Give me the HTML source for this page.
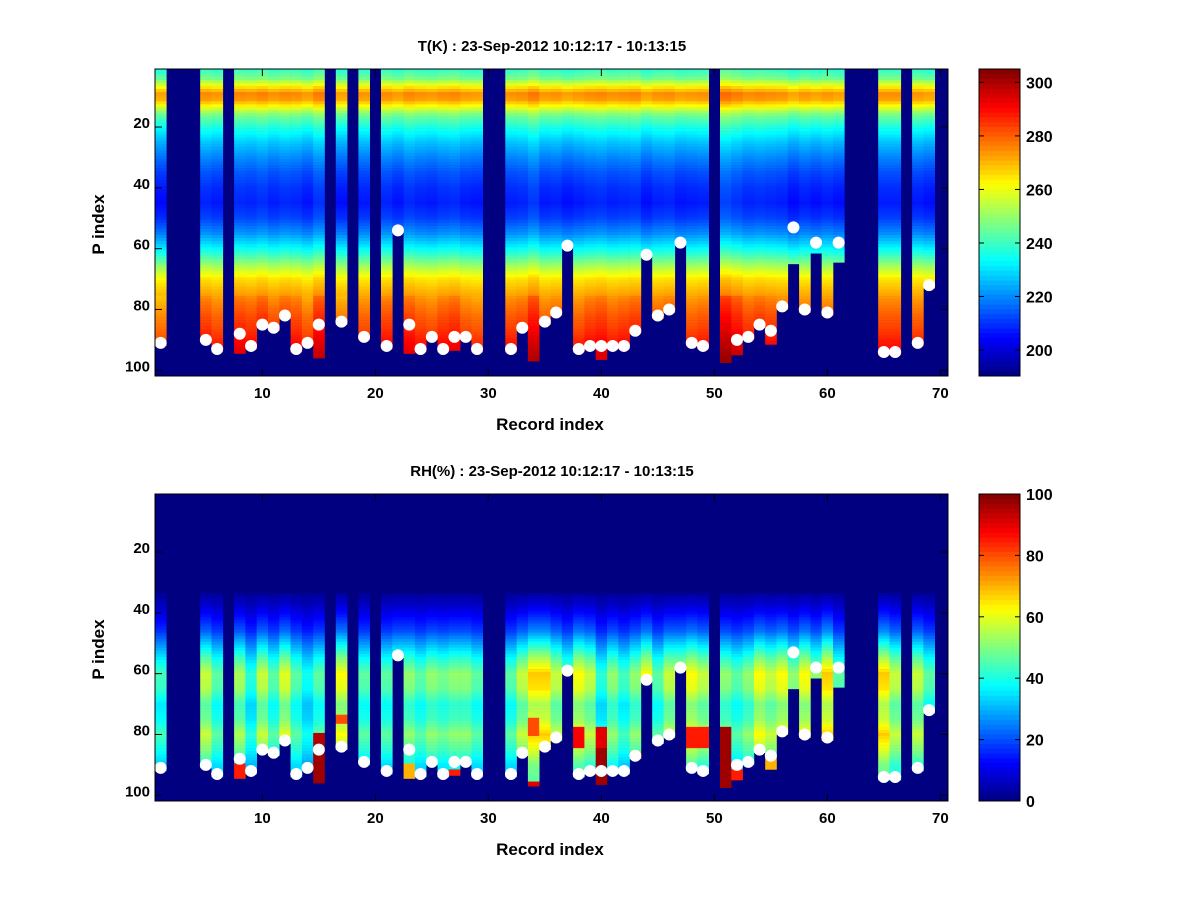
<!DOCTYPE html>
<html><head><meta charset="utf-8"><style>
body{margin:0;background:#fff;}
svg{display:block;font-family:"Liberation Sans",sans-serif;font-weight:bold;}
</style></head><body>
<svg id="fig" width="1200" height="900" viewBox="0 0 1200 900">
<rect x="0" y="0" width="1200" height="900" fill="#fff"/>
<g id="top"></g>
<g id="bot"></g>
</svg>
<script>
// ---------- data ----------
const recordCount = 70;
const dotLevel = {1:91,5:90,6:93,8:88,9:92,10:85,11:86,12:82,13:93,14:91,15:85,17:84,19:89,21:92,22:54,23:85,24:93,25:89,26:93,27:89,28:89,29:93,32:93,33:86,35:84,36:81,37:59,38:93,39:92,40:92,41:92,42:92,43:87,44:62,45:82,46:80,47:58,48:91,49:92,52:90,53:89,54:85,55:87,56:79,57:53,58:80,59:58,60:81,61:58,65:94,66:94,68:91,69:72};
const dataEndExtra = {8:94.5,13:94,15:96,23:94.5,24:94,27:93.5,34:97,40:96.5,51:97.5,52:95,55:91.5,57:65,59:61.5,61:64.5,22:54,44:62,47:58,37:59,14:91};
const missing = [2,3,4,7,16,18,20,30,31,50,62,63,64,67,70];
const tKnotP = [1,4,7,9,11,13,16,20,25,30,35,40,45,50,55,60,63,66,70,74,78,82,86,90,95,100];
const tKnotV = [238,246,264,274,272,262,246,236,226,219,213,209,207,211,220,233,242,252,264,270,275,279,282,286,290,292];
const tOffset = {1:-3,5:2,6:0,8:3,9:2,10:4,11:1,12:3,13:2,14:-1,15:5,17:-2,19:0,21:2,22:-1,23:3,24:1,25:0,26:2,27:3,28:0,29:-1,32:1,33:2,34:6,35:0,36:1,37:-2,38:0,39:2,40:3,41:1,42:2,43:3,44:-2,45:1,46:2,47:-1,48:0,49:1,51:8,52:5,53:2,54:3,55:2,56:1,57:-3,58:0,59:-2,60:0,61:-2,65:1,66:1,68:0,69:-2};
const rhKnotP = [34,38,42,46,50,55,60,65,70,75,80,85,90,95,100];
const rhKnotV = [3,8,14,20,30,42,52,50,42,44,52,46,38,36,35];
const rhScale = {1:0.85,5:1.1,6:0.9,8:1.05,9:0.8,10:1.1,11:0.9,12:1.15,13:0.9,14:0.75,15:0.9,17:1.2,19:0.9,21:0.9,22:1.0,23:1.0,24:0.9,25:1.0,26:0.95,27:1.0,28:1.0,29:0.9,32:0.9,33:1.1,34:1.3,35:1.3,36:1.1,37:0.9,38:1.2,39:1.1,40:0.8,41:1.0,42:0.85,43:1.0,44:1.2,45:0.9,46:1.1,47:1.1,48:1.2,49:1.1,51:1.0,52:0.9,53:1.0,54:1.2,55:1.1,56:1.2,57:1.0,58:1.2,59:1.0,60:1.3,61:0.9,65:1.3,66:1.1,68:1.1,69:0.9};
const rhPatchRec = [8,15,15,23,27,34,34,38,40,40,43,48,49,51,52,55,17,37];
const rhPatchFrom = [90,80,84,90,92,75,96,78,78,84,86,78,78,78,92,88,74,74];
const rhPatchTo = [94,84,96,94,93,80,97,84,84,96,88,84,84,97,95,91,76,76];
const rhPatchVal = [85,95,97,70,85,80,90,88,90,97,70,85,85,97,85,70,80,80];
const tTicks = [200,220,240,260,280,300];
const rhTicks = [0,20,40,60,80,100];
const xTicks = [10,20,30,40,50,60,70];
const yTicks = [20,40,60,80,100];

// ---------- helpers ----------
const NS='http://www.w3.org/2000/svg';
function mk(tag,attrs,parent){const e=document.createElementNS(NS,tag);for(const k in attrs)e.setAttribute(k,attrs[k]);parent.appendChild(e);return e;}
function jet(t){t=Math.max(0,Math.min(1,t));const r=Math.max(0,Math.min(1,1.5-Math.abs(4*t-3))),g=Math.max(0,Math.min(1,1.5-Math.abs(4*t-2))),b=Math.max(0,Math.min(1,1.5-Math.abs(4*t-1)));return 'rgb('+Math.round(r*255)+','+Math.round(g*255)+','+Math.round(b*255)+')';}
function interp(P,V,p){if(p<=P[0])return V[0];for(let i=1;i<P.length;i++){if(p<=P[i]){const f=(p-P[i-1])/(P[i]-P[i-1]);return V[i-1]+f*(V[i]-V[i-1]);}}return V[V.length-1];}
const X0=155,CW=11.3;
function xs(r){return X0+(r-0.5)*CW;}
function dataEnd(r){if(missing.includes(r))return 0;if(dataEndExtra[r]!==undefined)return dataEndExtra[r];return dotLevel[r]+1;}

function panel(g,top,title,cmin,cmax,valFn,cticks){
  const ys=p=>top+(p-0.9)*3.04, H=307, W=793;
  mk('rect',{x:X0,y:top,width:W,height:H,fill:'#000080'},g);
  for(let r=1;r<=recordCount;r++){
    const end=dataEnd(r); if(!end)continue;
    for(let p=1;p<=100;p++){
      if(p-0.5>=end)break;
      const y1=Math.max(top,ys(p-0.5)), y2=Math.min(ys(Math.min(p+0.5,end)),top+H);
      const v=valFn(r,p);
      const c=mk('rect',{x:xs(r-0.5).toFixed(2),y:y1.toFixed(2),width:(CW+0.3).toFixed(2),height:(y2-y1+0.3).toFixed(2),fill:jet((v-cmin)/(cmax-cmin))},g);
      
      
    }
  }
  for(const r in dotLevel){
    const d=mk('circle',{cx:xs(+r),cy:ys(dotLevel[r]),r:6,fill:'#fff'},g);
    
    
  }
  const fr=mk('rect',{x:X0,y:top,width:W,height:H,fill:'none',stroke:'#000','stroke-width':1},g);
  
  
  for(const t of xTicks){
    const x=xs(t);
    mk('line',{x1:x,x2:x,y1:top+H,y2:top+H-7,stroke:'#000'},g);
    mk('line',{x1:x,x2:x,y1:top,y2:top+7,stroke:'#000'},g);
    const tl=mk('text',{x:x,y:top+H+22,'text-anchor':'middle','font-size':15},g);tl.textContent=t;
    
    
  }
  for(const t of yTicks){
    const y=ys(t);
    mk('line',{x1:X0,x2:X0+7,y1:y,y2:y,stroke:'#000'},g);
    mk('line',{x1:X0+W,x2:X0+W-7,y1:y,y2:y,stroke:'#000'},g);
    const tl=mk('text',{x:X0-5,y:y+1,'text-anchor':'end','font-size':15},g);tl.textContent=t;
    
    
  }
  const tt=mk('text',{x:552,y:top-18,'text-anchor':'middle','font-size':15},g);tt.textContent=title;
  
  
  const xl=mk('text',{x:550,y:top+H+54,'text-anchor':'middle','font-size':17},g);xl.textContent='Record index';
  
  
  const yl=mk('text',{x:104,y:top+H/2+2,'text-anchor':'middle','font-size':17,transform:'rotate(-90 104 '+(top+H/2+2)+')'},g);yl.textContent='P index';
  
  
  // colorbar
  const cb=mk('g',{},g);
  
  
  const CX=979,CWd=41,n=64;
  for(let i=0;i<n;i++){
    const y=top+H-(i+1)*H/n;
    mk('rect',{x:CX,y:y.toFixed(2),width:CWd,height:(H/n+0.4).toFixed(2),fill:jet((i+0.5)/n)},cb);
  }
  mk('rect',{x:CX,y:top,width:CWd,height:H,fill:'none',stroke:'#000'},cb);
  const cy=v=>top+H-(v-cmin)/(cmax-cmin)*H;
  for(const t of cticks){
    const y=cy(t);
    mk('line',{x1:CX,x2:CX+5,y1:y,y2:y,stroke:'#000'},cb);
    mk('line',{x1:CX+CWd,x2:CX+CWd-5,y1:y,y2:y,stroke:'#000'},cb);
    const tl=mk('text',{x:CX+CWd+6,y:y+6,'font-size':16},cb);tl.textContent=t;
    
    
  }
}
function tVal(r,p){return interp(tKnotP,tKnotV,p)+(tOffset[r]||0)*(p>75?1.4:0.6);}
function rhVal(r,p){
  for(let i=0;i<rhPatchRec.length;i++){if(rhPatchRec[i]===r&&p>=rhPatchFrom[i]&&p<=rhPatchTo[i])return rhPatchVal[i];}
  if(p<34)return 0;
  return Math.min(100,interp(rhKnotP,rhKnotV,p)*(rhScale[r]||1));
}
panel(document.getElementById('top'),69,'T(K) : 23-Sep-2012 10:12:17 - 10:13:15',190.3,305,tVal,tTicks);
panel(document.getElementById('bot'),494,'RH(%) : 23-Sep-2012 10:12:17 - 10:13:15',0,100,rhVal,rhTicks);
</script>
</body></html>
